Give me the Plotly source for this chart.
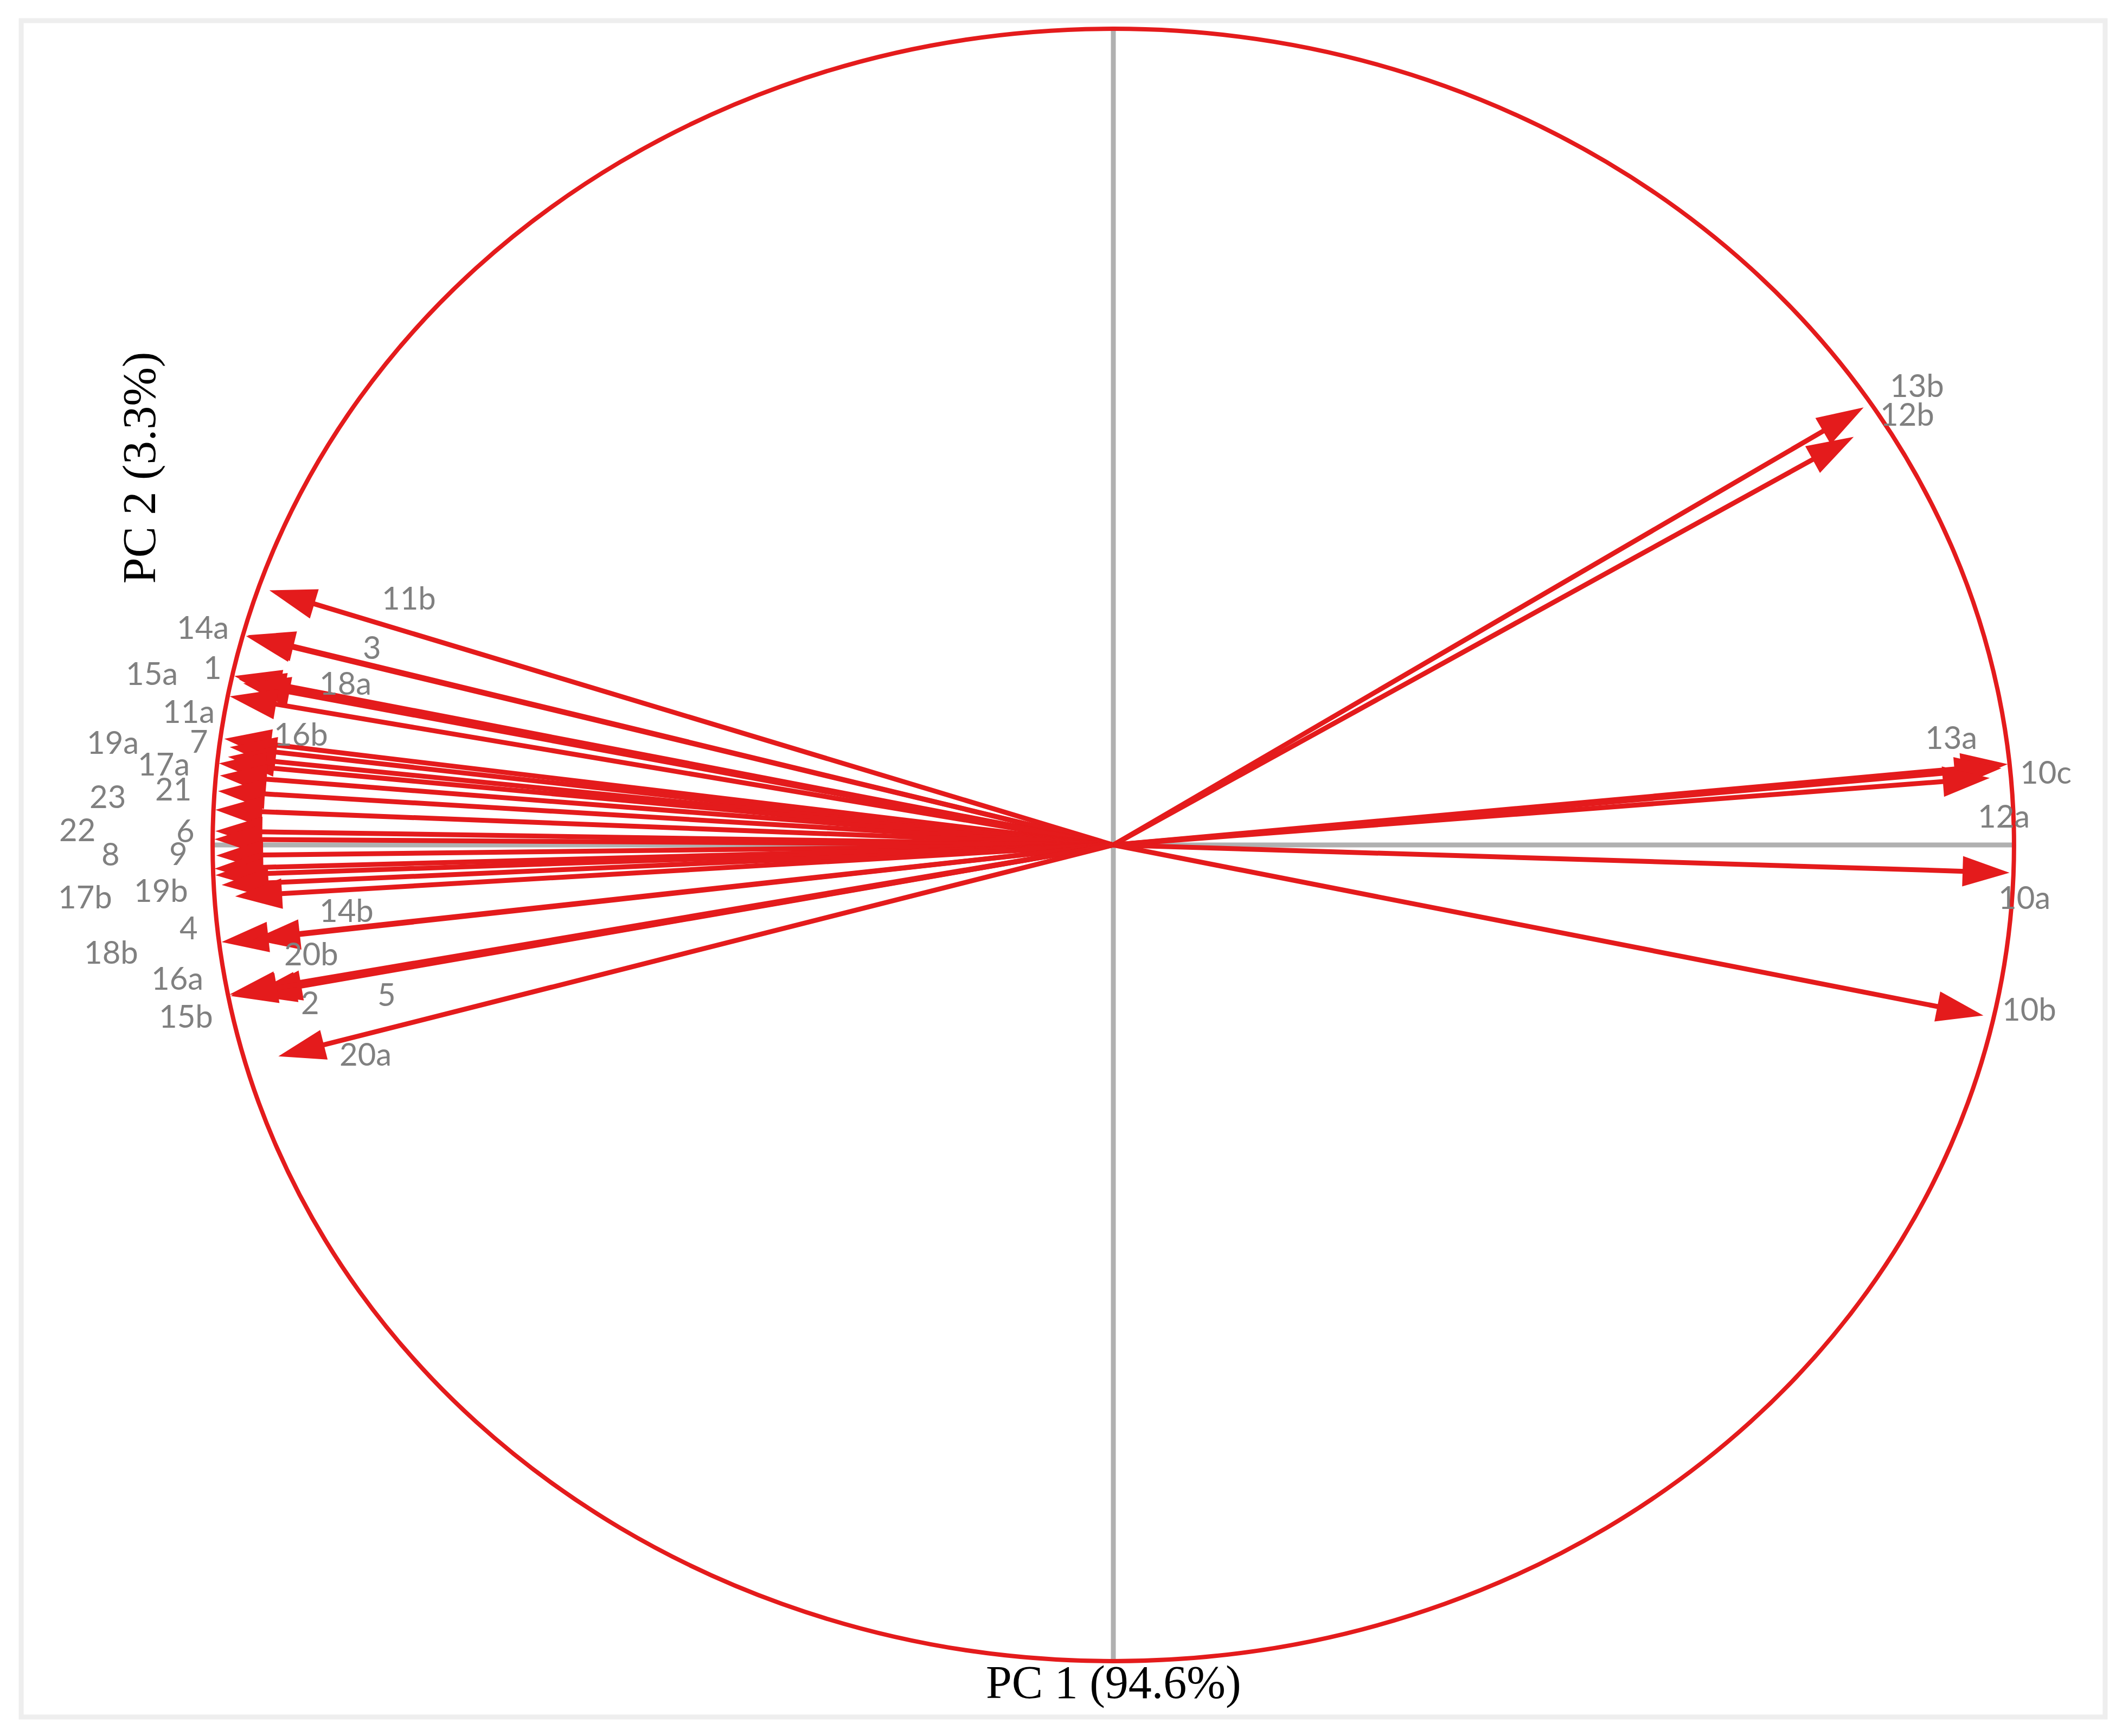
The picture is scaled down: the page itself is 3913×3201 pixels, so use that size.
import plotly.graph_objects as go

# ---------------- data: PCA loadings ----------------
variables = ["13b", "12b", "10c", "13a", "12a", "10a", "10b",
             "11b", "14a", "3", "1", "15a", "18a", "11a", "16b", "7", "19a", "17a", "21", "23",
             "22", "6", "8", "9", "17b", "19b", "14b", "4", "18b", "20b", "16a", "2", "5", "15b", "20a"]
pc1 = [0.833, 0.822, 0.993, 0.986, 0.973, 0.995, 0.966,
       -0.937, -0.963, -0.961, -0.976, -0.971, -0.966, -0.981, -0.987, -0.981, -0.983, -0.993, -0.992, -0.994,
       -0.997, -0.997, -0.998, -0.996, -0.998, -0.997, -0.990, -0.975, -0.990, -0.955, -0.981, -0.959, -0.953,
       -0.980, -0.927]
pc2 = [0.536, 0.500, 0.099, 0.094, 0.082, -0.034, -0.209,
       0.312, 0.256, 0.257, 0.207, 0.203, 0.198, 0.182, 0.130, 0.120, 0.108, 0.100, 0.085, 0.066,
       0.043, 0.017, 0.007, -0.013, -0.029, -0.037, -0.049, -0.063, -0.119, -0.116, -0.183, -0.184, -0.182,
       -0.185, -0.259]
x_title = "PC 1 (94.6%)"
y_title = "PC 2 (3.3%)"

# ---------------- layout / style ----------------
W, H = 3913, 3201
OFF = 8                      # default page margin of the html body
CX, CY = 2053, 1558          # screen position of the origin
SX, SY = 1661, 1505          # pixels per unit on each axis
XR = (-1.1, 1.1)
YR = (-1.02, 1.02)
margin_l = (CX - OFF) + XR[0] * SX
plot_w = (XR[1] - XR[0]) * SX
margin_r = W - margin_l - plot_w
margin_t = (CY - OFF) - YR[1] * SY
plot_h = (YR[1] - YR[0]) * SY
margin_b = H - margin_t - plot_h


def fx(px):
    return (px - OFF - margin_l) / plot_w


def fy(py):
    return (margin_t + plot_h - (py - OFF)) / plot_h


RED = "#E41B1C"
GREY_AXIS = "#B0B0B0"
LABEL_GREY = "#808080"

# label offsets from arrow tips (pixels: right, up)
LABEL_SHIFT = {
    "13b": (98, 42), "12b": (99, 43), "10c": (70, -13), "13a": (-93, 58), "12a": (26, -69),
    "10a": (27, -44), "10b": (85, 13),
    "11b": (257, -13), "14a": (-80, 17), "3": (229, -21), "1": (-40, 17), "15a": (-160, 12),
    "18a": (188, 2), "11a": (-76, -26), "16b": (141, 10), "7": (-57, 12), "19a": (-212, 28),
    "17a": (-102, 0), "21": (-86, -23), "23": (-204, -9), "22": (-255, -35), "6": (-55, 2),
    "8": (-191, -26), "9": (-70, 5), "17b": (-238, -51), "19b": (-100, -27), "14b": (230, -46),
    "4": (-86, -57), "18b": (-204, -17), "20b": (107, -25), "16a": (-97, 31), "2": (112, -13),
    "5": (243, -1), "15b": (-82, -36), "20a": (161, 5),
}

fig = go.Figure()

for name, x, y in zip(variables, pc1, pc2):
    fig.add_trace(go.Scatter(
        x=[0, x], y=[0, y], mode="lines+markers",
        line=dict(color=RED, width=9),
        marker=dict(symbol=["circle", "arrow"], size=[0, 91], angleref="previous",
                    color=RED, opacity=1, line=dict(width=0)),
        opacity=1,
        cliponaxis=False, hoverinfo="skip", showlegend=False, name=name,
    ))

shapes = [
    # chart-area frame
    dict(type="rect", xref="paper", yref="paper", x0=fx(39), x1=fx(3882), y0=fy(3166), y1=fy(38),
         line=dict(color="#EEEEEE", width=9), layer="below"),
    # axes through origin
    dict(type="line", xref="x", yref="y", x0=0, x1=0, y0=-1, y1=1,
         line=dict(color=GREY_AXIS, width=9), layer="below"),
    dict(type="line", xref="x", yref="y", x0=-1, x1=1, y0=0, y1=0,
         line=dict(color=GREY_AXIS, width=9), layer="below"),
    # correlation circle
    dict(type="circle", xref="x", yref="y", x0=-1, x1=1, y0=-1, y1=1,
         line=dict(color=RED, width=8), layer="below"),
]

annotations = []
for name, x, y in zip(variables, pc1, pc2):
    dx, dy = LABEL_SHIFT[name]
    annotations.append(dict(
        x=x, y=y, xref="x", yref="y", text=name, showarrow=False,
        xshift=dx, yshift=dy, xanchor="center", yanchor="middle",
        font=dict(family="Lato", size=58, color=LABEL_GREY),
    ))

annotations.append(dict(
    x=0, y=fy(3102), xref="x", yref="paper", text=x_title, showarrow=False,
    xanchor="center", yanchor="middle",
    font=dict(family="Liberation Serif", size=86, color="black"),
))
annotations.append(dict(
    x=fx(257), y=fy(862), xref="paper", yref="paper", text=y_title, showarrow=False,
    textangle=-90, xanchor="center", yanchor="middle",
    font=dict(family="Liberation Serif", size=86, color="black"),
))

fig.update_layout(
    width=W, height=H,
    margin=dict(l=margin_l, r=margin_r, t=margin_t, b=margin_b, pad=0),
    paper_bgcolor="white", plot_bgcolor="white",
    xaxis=dict(range=list(XR), visible=False, showgrid=False, zeroline=False, fixedrange=True),
    yaxis=dict(range=list(YR), visible=False, showgrid=False, zeroline=False, fixedrange=True),
    shapes=shapes, annotations=annotations,
    showlegend=False, hovermode=False,
)

fig.write_html("out.html", config={"displayModeBar": False})
